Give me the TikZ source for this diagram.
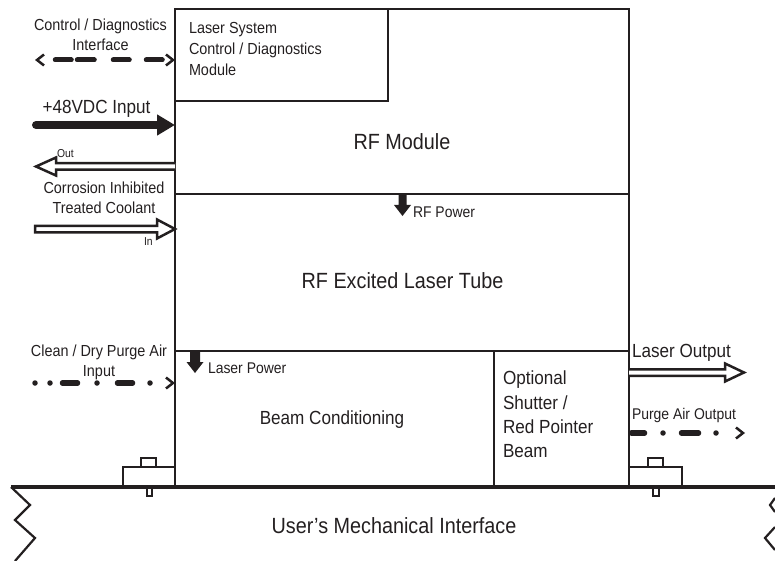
\documentclass[tikz,border=0pt]{standalone}
\usepackage{fontspec}
\setmainfont{Liberation Sans}[FakeStretch=0.9]
\usetikzlibrary{arrows.meta,calc}
\definecolor{ink}{HTML}{231F20}
\tikzset{
  chev/.tip={Straight Barb[length=7pt,width=11pt,line width=2.5pt]},
  box/.style={draw=ink, line width=2.5pt, anchor=north west, inner sep=0pt, outer sep=0pt},
  txt/.style={inner sep=0pt, outer sep=0pt, text=ink},
  fA/.style={font=\fontsize{22pt}{26pt}\selectfont},
  fB/.style={font=\fontsize{19pt}{23pt}\selectfont},
  fC/.style={font=\fontsize{19pt}{23pt}\selectfont},
  fD/.style={font=\fontsize{16pt}{20pt}\selectfont},
  fE/.style={font=\fontsize{15.5pt}{19pt}\selectfont},
  fF/.style={font=\fontsize{11.5pt}{14pt}\selectfont},
  hollow/.style={draw=ink, line width=2.5pt, fill=white, line join=miter},
  solidtip/.style={fill=ink},
  ctrldash/.style={draw=ink, line width=5pt, line cap=round,
    dash pattern=on 16pt off 6pt on 17pt off 19pt on 16pt off 17pt on 16pt off 40pt, dash phase=130pt},
  purgein/.style={draw=ink, line width=5.5pt, line cap=round,
    dash pattern=on 0pt off 15pt on 0pt off 12.5pt on 15pt off 19.5pt on 0pt off 20.5pt on 15pt off 17.5pt on 0pt off 40pt},
  purgeout/.style={draw=ink, line width=5.5pt, line cap=round,
    dash pattern=on 13pt off 18.5pt on 0pt off 18.5pt on 17pt off 17.5pt on 0pt off 40pt, dash phase=122pt},
  ground/.style={draw=ink, line width=3.2pt},
  thin/.style={draw=ink, line width=2.2pt},
}
\begin{document}
\begin{tikzpicture}[x=1pt,y=-1pt]
\useasboundingbox (0,0) rectangle (775,561);

% ---- main blocks ----
\node[box, minimum width=454pt, minimum height=185pt] (rfmod) at (175,9) {};
\node[box, minimum width=454pt, minimum height=157pt] (tube) at (175,194) {};
\node[box, minimum width=319pt, minimum height=136pt] (beam) at (175,351) {};
\node[box, minimum width=135pt, minimum height=136pt] (shut) at (494,351) {};
\node[box, minimum width=213pt, minimum height=92pt] (ctrl) at (175,9) {};

% ---- block texts ----
\node[txt, fA, anchor=base] (trf) at (402,150) {RF Module};
\node[txt, fA, anchor=base] (ttube) at (402.5,288) {RF Excited Laser Tube};
\node[txt, fC, anchor=base] (tbeam) at (332,424) {Beam Conditioning};
\node[txt, fC, anchor=base west] (ts1) at (503,384) {Optional};
\node[txt, fC, anchor=base west] (ts2) at (503,409) {Shutter /};
\node[txt, fC, anchor=base west] (ts3) at (503,433) {Red Pointer};
\node[txt, fC, anchor=base west] (ts4) at (503,457) {Beam};
\node[txt, fD, anchor=base west] (tc1) at (189,34) {Laser System};
\node[txt, fD, anchor=base west] (tc2) at (189,55) {Control / Diagnostics};
\node[txt, fD, anchor=base west] (tc3) at (189,76) {Module};

% ---- control / diagnostics interface ----
\node[txt, fD, anchor=base] (lcd1) at (100.5,31) {Control / Diagnostics};
\node[txt, fD, anchor=base] (lcd2) at (100.5,51) {Interface};
\coordinate (cdL) at (35,60);
\draw[ctrldash, chev-chev] (cdL) -- (cdL -| rfmod.west);

% ---- +48VDC ----
\node[txt, fB, anchor=base] (l48) at (96.5,114) {+48VDC Input};
\coordinate (p48) at (36,125);
\draw[draw=ink, line width=8pt, line cap=round, -{Triangle[length=18pt,width=20pt]}] (p48) -- (p48 -| rfmod.west);

% ---- coolant ----
\coordinate (co) at (rfmod.west |- 0,166.5);
\draw[hollow] ($(co)+(0,-3.25)$) -- (56,163.25) -- (56,157.5) -- (36,166.5) -- (56,175.5) -- (56,169.75) -- ($(co)+(0,3.25)$);
\node[txt, fF, anchor=base west] (lout) at (57,158) {Out};
\node[txt, fD, anchor=base] (lcool1) at (104,194) {Corrosion Inhibited};
\node[txt, fD, anchor=base] (lcool2) at (104,214) {Treated Coolant};
\coordinate (ci) at (tube.west |- 0,229);
\draw[hollow] (35,225.75) -- (157,225.75) -- (157,219.5) -- (ci) -- (157,238.5) -- (157,232.25) -- (35,232.25) -- cycle;
\node[txt, fF, anchor=base west] (lin) at (144,245) {In};

% ---- RF power ----
\coordinate (rfp) at (402.5,194);
\fill[solidtip] ($(rfp)+(-4,0)$) -- ($(rfp)+(4,0)$) -- ($(rfp)+(4,11)$) -- ($(rfp)+(8.5,11)$) -- ($(rfp)+(0,22)$) -- ($(rfp)+(-8.5,11)$) -- ($(rfp)+(-4,11)$) -- cycle;
\node[txt, fE, anchor=base west] (lrfp) at (413,218) {RF Power};

% ---- laser power ----
\coordinate (lp) at (195,351);
\fill[solidtip] ($(lp)+(-5,0)$) -- ($(lp)+(5,0)$) -- ($(lp)+(5,11)$) -- ($(lp)+(8.5,11)$) -- ($(lp)+(0,22)$) -- ($(lp)+(-8.5,11)$) -- ($(lp)+(-5,11)$) -- cycle;
\node[txt, fE, anchor=base west] (llp) at (208,373) {Laser Power};

% ---- purge air input ----
\node[txt, fD, anchor=base] (lpi1) at (99,356) {Clean / Dry Purge Air};
\node[txt, fD, anchor=base] (lpi2) at (99,376) {Input};
\coordinate (piL) at (35,383);
\draw[purgein, -chev] (piL) -- (piL -| beam.west);

% ---- laser output ----
\node[txt, fC, anchor=base west] (llo) at (632,357) {Laser Output};
\coordinate (lo) at (shut.east |- 0,372.5);
\draw[hollow] ($(lo)+(0,-3.25)$) -- (725,369.25) -- (725,363.5) -- (744,372.5) -- (725,381.5) -- (725,375.75) -- ($(lo)+(0,3.25)$);

% ---- purge air output ----
\node[txt, fE, anchor=base west] (lpo) at (632,419) {Purge Air Output};
\coordinate (poE) at (745,433);
\draw[purgeout, -chev] (poE -| shut.east) -- (poE);

% ---- mounting feet ----
\draw[thin] (123,467) rectangle (175,487);
\draw[thin] (141,458) rectangle (156,467);
\draw[thin, fill=white] (147,487) rectangle (152,496);
\draw[thin] (629,467) rectangle (682,487);
\draw[thin] (648,458) rectangle (663,467);
\draw[thin, fill=white] (653,487) rectangle (659,496);

% ---- user's mechanical interface ----
\coordinate (gL) at (11,487);
\coordinate (gR) at (775,487);
\draw[ground] (gL) -- (gR);
\draw[thin, line join=miter] (gL) -- (30,505) -- (15,520) -- (35,538) -- (15,561);
\draw[thin, line join=miter] (775,498) -- (770,505) -- (775,512);
\draw[thin, line join=miter] (775,527) -- (765,538) -- (775,550);
\node[txt, fA, anchor=base] (lumi) at (394,533) {User’s Mechanical Interface};
\end{tikzpicture}
\end{document}
